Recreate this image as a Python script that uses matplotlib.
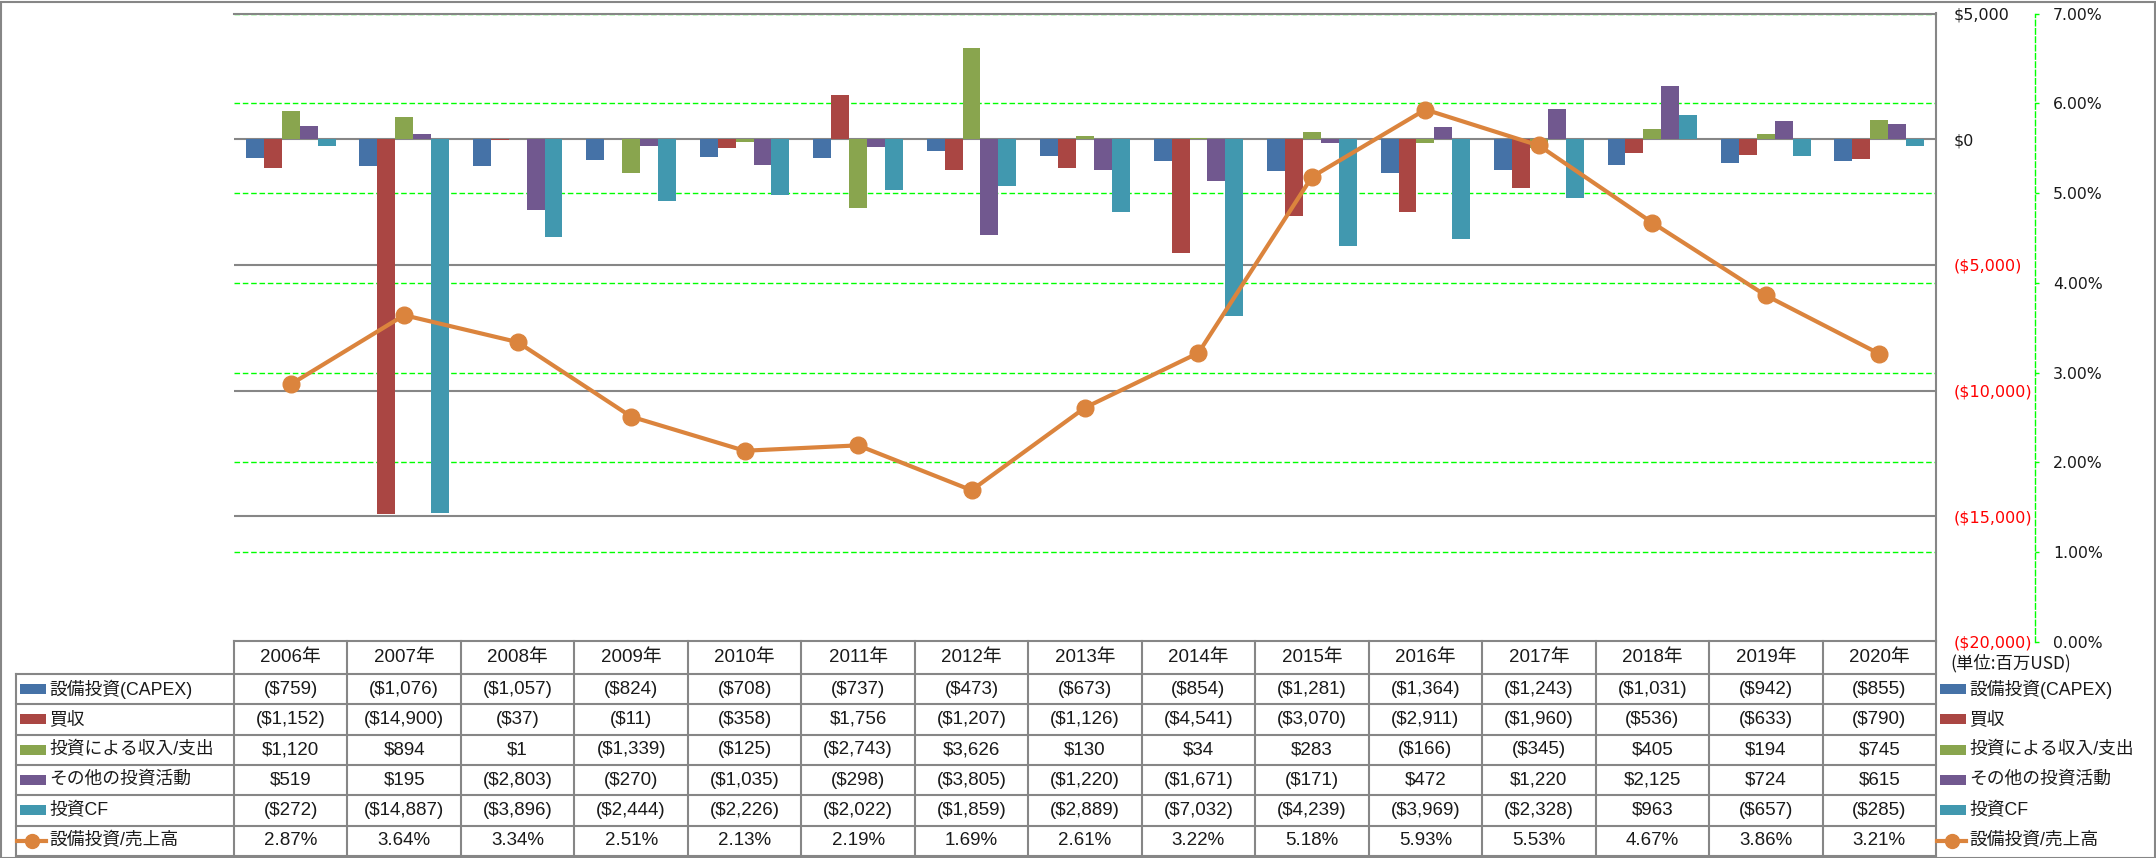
import numpy as np
import matplotlib
matplotlib.use('Agg')
import matplotlib.pyplot as plt
from matplotlib import font_manager
from matplotlib.lines import Line2D
from matplotlib.patches import Rectangle
from matplotlib.ticker import FuncFormatter

years = list(range(2006, 2021))
year_labels = [f'{y}年' for y in years]

capex = [-759, -1076, -1057, -824, -708, -737, -473, -673, -854, -1281, -1364, -1243, -1031, -942, -855]
acquisition = [-1152, -14900, -37, -11, -358, 1756, -1207, -1126, -4541, -3070, -2911, -1960, -536, -633, -790]
invest_inout = [1120, 894, 1, -1339, -125, -2743, 3626, 130, 34, 283, -166, -345, 405, 194, 745]
other_invest = [519, 195, -2803, -270, -1035, -298, -3805, -1220, -1671, -171, 472, 1220, 2125, 724, 615]
invest_cf = [-272, -14887, -3896, -2444, -2226, -2022, -1859, -2889, -7032, -4239, -3969, -2328, 963, -657, -285]
capex_ratio = [2.87, 3.64, 3.34, 2.51, 2.13, 2.19, 1.69, 2.61, 3.22, 5.18, 5.93, 5.53, 4.67, 3.86, 3.21]

bar_names = ['設備投資(CAPEX)', '買収', '投資による収入/支出', 'その他の投資活動', '投資CF']
line_name = '設備投資/売上高'
unit_note = '(単位:百万USD)'

bar_series = [capex, acquisition, invest_inout, other_invest, invest_cf]
colors = ['#4572A7', '#AA4643', '#89A54E', '#71588F', '#4198AF']
line_color = '#DB843D'
grid_gray = '#868686'
green = '#00FF00'
txt = '#1a1a1a'

names = {f.name for f in font_manager.fontManager.ttflist}
narrow = 'Liberation Sans Narrow' if 'Liberation Sans Narrow' in names else 'Liberation Sans'
tab_font = [narrow, 'Noto Sans CJK JP']
plt.rcParams['font.family'] = ['DejaVu Sans', 'Noto Sans CJK JP']


def money(v):
    s = f'${abs(v):,.0f}'
    return f'({s})' if v < 0 else s


W, H = 2156, 858
fig = plt.figure(figsize=(W / 100, H / 100), dpi=100)
L, R, T, B = 234, 1936, 13.5, 642
rect = [L / W, 1 - B / H, (R - L) / W, (B - T) / H]

# secondary axis (back): green grid + dashed spine
ax2 = fig.add_axes(rect, zorder=1)
ax2.set_xlim(-0.5, 14.5)
ax2.set_ylim(0, 7)
ax2.set_xticks([])
ax2.yaxis.tick_right()
ax2.set_yticks(range(0, 8))
ax2.yaxis.set_major_formatter(FuncFormatter(lambda v, p: f'{v:.2f}%'))
ax2.grid(axis='y', color=green, ls=(0, (4, 2)), lw=1)
for s in ['left', 'top', 'bottom']:
    ax2.spines[s].set_visible(False)
ax2.spines['right'].set_position(('outward', 99 * 0.72))
ax2.spines['right'].set_color(green)
ax2.spines['right'].set_linestyle((0, (4, 2)))
ax2.spines['right'].set_linewidth(1)
ax2.tick_params(axis='y', color=green, labelcolor=txt, length=3, width=1, pad=10, labelsize=11.3)

# primary axis: bars
ax = fig.add_axes(rect, zorder=2)
ax.patch.set_visible(False)
x = np.arange(len(years))
bw = 0.158
for i, (vals, c) in enumerate(zip(bar_series, colors)):
    ax.bar(x + (i - 2) * bw, vals, bw, color=c, zorder=2)
ax.set_xlim(-0.5, 14.5)
ax.set_ylim(-20000, 5000)
ticks = list(range(-20000, 5001, 5000))
ax.set_yticks(ticks)
ax.yaxis.tick_right()
ax.yaxis.set_major_formatter(FuncFormatter(lambda v, p: money(v)))
ax.tick_params(axis='y', length=0, pad=13, labelsize=11.5)
ax.set_xticks([])
ax.grid(axis='y', color=grid_gray, lw=1.5, zorder=0)
ax.set_axisbelow(True)
for s in ['left', 'bottom']:
    ax.spines[s].set_visible(False)
for s in ['right', 'top']:
    ax.spines[s].set_color(grid_gray)
    ax.spines[s].set_linewidth(1.5)
for lbl, v in zip(ax.get_yticklabels(), ticks):
    lbl.set_color('#FF0000' if v < 0 else txt)

# line on top
ax3 = fig.add_axes(rect, zorder=3)
ax3.patch.set_visible(False)
ax3.set_xlim(-0.5, 14.5)
ax3.set_ylim(0, 7)
ax3.axis('off')
ax3.plot(x, capex_ratio, color=line_color, lw=3, marker='o', ms=12, mfc=line_color, mec=line_color)

# data table in pixel coordinates
tab = fig.add_axes([0, 0, 1, 1], zorder=4)
tab.patch.set_visible(False)
tab.set_xlim(0, W)
tab.set_ylim(H, 0)
tab.axis('off')

ncol = len(years)
col_x = [L + k * (R - L) / ncol for k in range(ncol + 1)]
head_top, head_bot, row_h = 641, 674, 30.33
row_y = [head_bot + k * row_h for k in range(7)]
lab_left = 16
lkw = dict(color=grid_gray, lw=1.5)

tab.plot([L, R], [head_top, head_top], **lkw)
for y in row_y:
    tab.plot([lab_left, R], [y, y], **lkw)
for cx in col_x:
    tab.plot([cx, cx], [head_top, row_y[-1]], **lkw)
tab.plot([lab_left, lab_left], [head_bot, row_y[-1]], **lkw)

fs = 13.5
for k, yl in enumerate(year_labels):
    tab.text((col_x[k] + col_x[k + 1]) / 2, (head_top + head_bot) / 2, yl,
             ha='center', va='center', fontsize=fs, family=tab_font, color=txt)

rows = [[money(v) for v in s] for s in bar_series] + [[f'{v:.2f}%' for v in capex_ratio]]
for r, vals in enumerate(rows):
    cy = (row_y[r] + row_y[r + 1]) / 2
    for k, s in enumerate(vals):
        tab.text((col_x[k] + col_x[k + 1]) / 2, cy, s, ha='center', va='center',
                 fontsize=fs, family=tab_font, color=txt)

all_names = bar_names + [line_name]
for r, name in enumerate(all_names):
    cy = (row_y[r] + row_y[r + 1]) / 2
    for px in (20, 1940):
        if r < len(bar_names):
            tab.add_patch(Rectangle((px, cy - 5), 26, 10, color=colors[r], lw=0))
        else:
            tab.add_line(Line2D([px - 3, px + 26], [cy, cy], color=line_color, lw=3))
            tab.add_line(Line2D([px + 11.5], [cy], marker='o', ms=10, color=line_color))
        tab.text(px + 29, cy, name, ha='left', va='center', fontsize=12.8, family=tab_font, color=txt)

tab.text(1950, 663, unit_note, ha='left', va='center', fontsize=12.5,
         family=['Noto Sans CJK JP'], color=txt)

fig.patches.append(Rectangle((0.5 / W, 0.5 / H), 1 - 2 / W, 1 - 2 / H, transform=fig.transFigure,
                             fill=False, edgecolor=grid_gray, lw=1.5))

fig.savefig('out.png', dpi=100, facecolor='white')
